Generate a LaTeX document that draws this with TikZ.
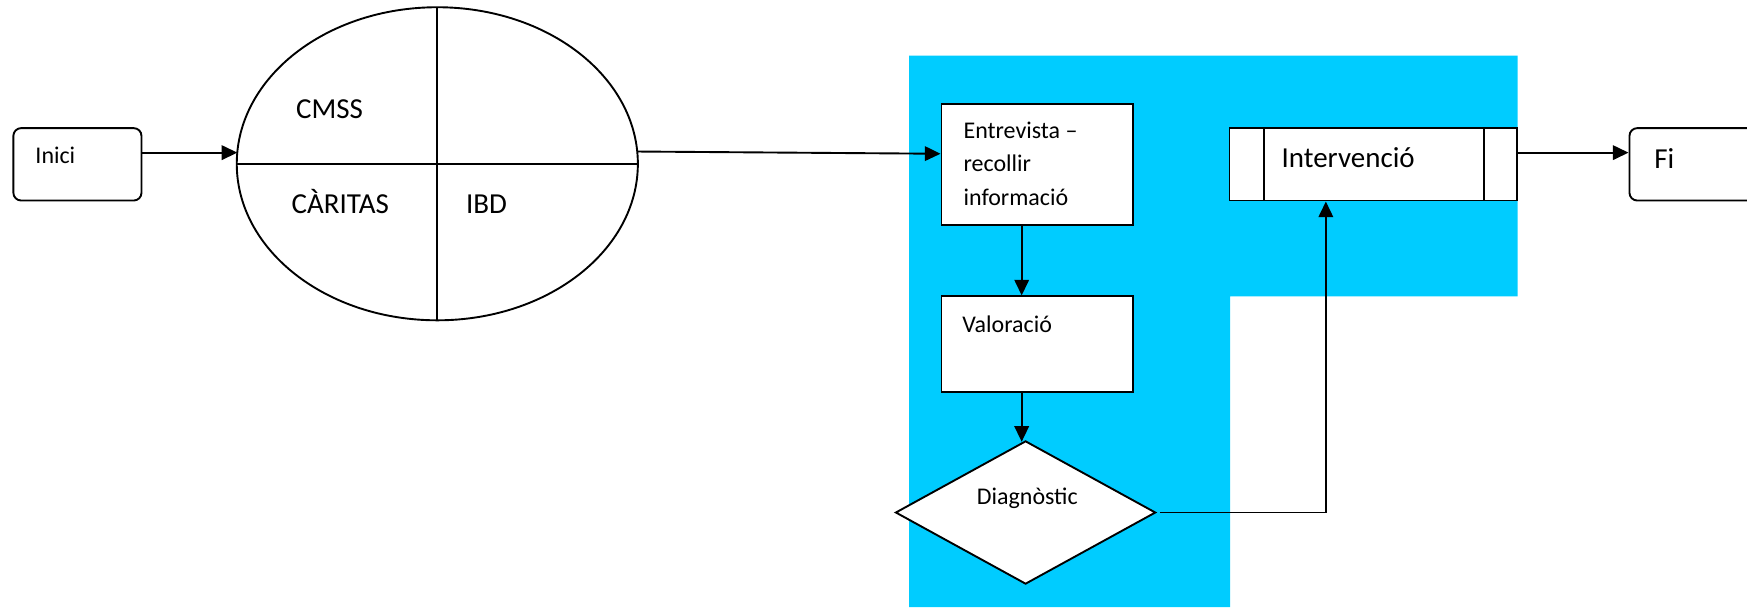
\documentclass[tikz,border=0pt]{standalone}
\usepackage{fontspec}
\setmainfont{Carlito}
\usetikzlibrary{shapes.geometric,arrows.meta,calc}
\definecolor{bluef}{RGB}{0,204,255}
\begin{document}
\begin{tikzpicture}[x=1pt,y=-1pt,
  line width=1.7pt,
  box/.style={draw=black,fill=white,rectangle,inner sep=0pt,line width=1.7pt},
  rbox/.style={box,rounded corners=7pt},
  arr/.style={-{Triangle[length=14pt,width=13pt]},line width=1.7pt},
  small/.style={inner sep=0pt,font=\fontsize{21.5}{26}\selectfont},
  big/.style={inner sep=0pt,font=\fontsize{26}{31}\selectfont}]
\useasboundingbox (0,0) rectangle (1568,545);
% blue area
\fill[bluef] (816,50) -- (1362,50) -- (1362,266) -- (1104,266) -- (1104,545) -- (816,545) -- cycle;
% nodes
\node[rbox,minimum width=115pt,minimum height=65pt] (inici) at (69.5,147.5) {};
\node[draw=black,fill=white,ellipse,minimum width=360pt,minimum height=281pt,inner sep=0pt,outer sep=0pt] (ell) at (392.5,147) {};
\draw (ell.north) -- (ell.south);
\draw (ell.west) -- (ell.east);
\node[box,minimum width=172pt,minimum height=108.5pt] (entre) at (931,147.75) {};
\node[box,minimum width=172pt,minimum height=86pt] (valo) at (931,309) {};
\node[draw=black,fill=white,diamond,minimum width=233.5pt,minimum height=128.5pt,inner sep=0pt] (diag) at (920.5,460) {};
\node[box,minimum width=258pt,minimum height=65pt] (interv) at (1232.5,147.5) {};
\draw ([xshift=31.5pt]interv.north west) -- ([xshift=31.5pt]interv.south west);
\draw ([xshift=-30.5pt]interv.north east) -- ([xshift=-30.5pt]interv.south east);
\node[rbox,minimum width=137pt,minimum height=65pt] (fi) at (1531,147.5) {};
% texts
\node[small,anchor=base west] (tinici) at (31,147) {Inici};
\node[big,anchor=base west] (tcmss) at (265,106) {CMSS};
\node[big,anchor=base west] (tcaritas) at (261,191.5) {CÀRITAS};
\node[big,anchor=base west] (tibd) at (417.5,191.5) {IBD};
\node[small,anchor=base west] (tentre1) at (864,124) {Entrevista –};
\node[small,anchor=base west] (tentre2) at (864,154) {recollir};
\node[small,anchor=base west] (tentre3) at (864,184) {informació};
\node[small,anchor=base west] (tvalo) at (863,298) {Valoració};
\node[small,anchor=base west] (tdiag) at (876,453) {Diagnòstic};
\node[big,anchor=base west] (tinterv) at (1149.5,150) {Intervenció};
\node[big,anchor=base west] (tfi) at (1484,151.5) {Fi};
% connectors
\coordinate (bend) at (1190,460);
\draw[arr] (inici.east |- 0,137) -- ([xshift=0.5pt]ell.west |- 0,137);
\draw[arr] ([xshift=-0.5pt]ell.east |- 0,136) -- (entre.west |- 0,138);
\draw[arr] (entre.south -| 917,0) -- (valo.north -| 917,0);
\draw[arr] (valo.south -| 917,0) -- (917,396.5);
\draw[arr] ([xshift=3pt]diag.east) -- (bend) -- (interv.south -| bend);
\draw[arr] (interv.east |- 0,137) -- (fi.west |- 0,137);
\end{tikzpicture}
\end{document}
